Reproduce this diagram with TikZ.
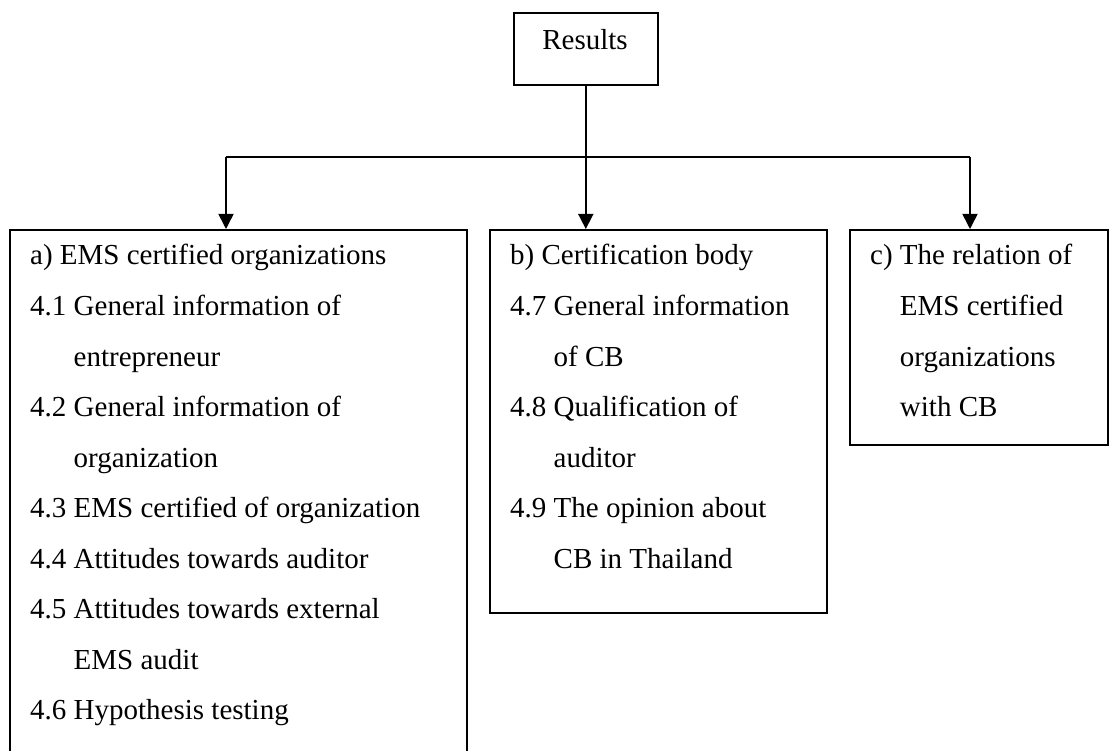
\documentclass[tikz,border=0pt]{standalone}
\usepackage{fontspec}
\setmainfont{Liberation Serif}
\usetikzlibrary{arrows.meta,calc}
\begin{document}
\begin{tikzpicture}[x=1pt,y=-1pt,
  frame/.style={draw,line width=1.6pt,rectangle,inner sep=0pt,anchor=north west},
  txt/.style={anchor=base west,inner sep=0pt,font=\fontsize{29}{35}\selectfont},
  link/.style={line width=1.6pt},
  arr/.style={link,-{Triangle[width=15pt,length=15pt]}}]
\useasboundingbox (0,0) rectangle (1109,751);

% top box
\node[frame,minimum width=144pt,minimum height=72pt] (res) at (513,12) {};
\node[txt,anchor=base] (restext) at (585,50) {Results};

% three result boxes
\node[frame,minimum width=457pt,minimum height=545pt] (boxa) at (9,229) {};
\node[frame,minimum width=337pt,minimum height=383pt] (boxb) at (489,229) {};
\node[frame,minimum width=258pt,minimum height=215pt] (boxc) at (849,229) {};

% box a text
\foreach \t [count=\i from 0] in {
  a) EMS certified organizations,
  4.1 General information of,
  \phantom{4.1 }entrepreneur,
  4.2 General information of,
  \phantom{4.1 }organization,
  4.3 EMS certified of organization,
  4.4 Attitudes towards auditor,
  4.5 Attitudes towards external,
  \phantom{4.1 }EMS audit,
  4.6 Hypothesis testing}
  \node[txt] (a\i) at (30,265+50.55*\i) {\t};

% box b text
\foreach \t [count=\i from 0] in {
  b) Certification body,
  4.7 General information,
  \phantom{4.7 }of CB,
  4.8 Qualification of,
  \phantom{4.8 }auditor,
  4.9 The opinion about,
  \phantom{4.9 }CB in Thailand}
  \node[txt] (b\i) at (510,265+50.55*\i) {\t};

% box c text
\foreach \t [count=\i from 0] in {
  c) The relation of,
  \phantom{c) }EMS certified,
  \phantom{c) }organizations,
  \phantom{c) }with CB}
  \node[txt] (c\i) at (870,265+50.55*\i) {\t};

% connectors
\coordinate (hub) at ($(res.south)+(0,73)$);
\coordinate (ka) at (226,157);
\coordinate (kc) at (970,157);
\draw[link] (res.south) -- (hub);
\draw[link] (ka) -- (kc);
\draw[arr] (ka) -- (ka |- boxa.north);
\draw[arr] (hub) -- (hub |- boxb.north);
\draw[arr] (kc) -- (kc |- boxc.north);
\end{tikzpicture}
\end{document}
